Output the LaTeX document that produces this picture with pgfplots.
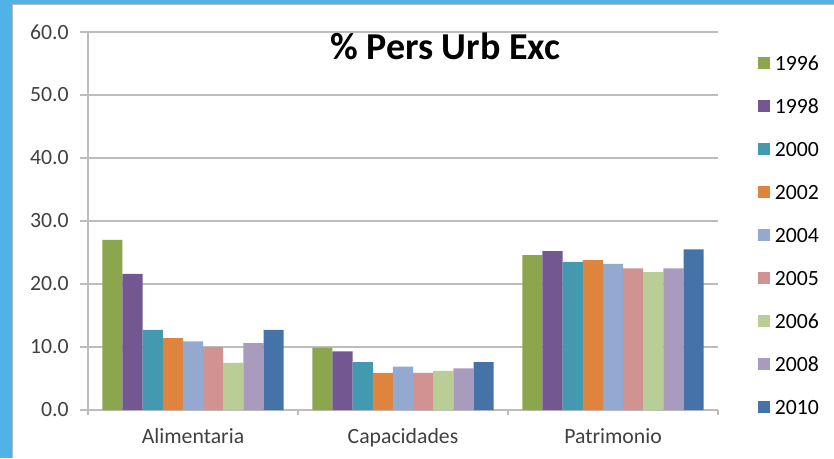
\documentclass[border=0pt]{standalone}
\usepackage{fontspec}
\setmainfont{Carlito}
\usepackage{pgfplots}
\usepackage{pgfplotstable}
\pgfplotsset{compat=1.18}

\definecolor{SlideBlue}{HTML}{4FB3E8}
\definecolor{GridGray}{HTML}{BDBDBD}
\definecolor{LabelGray}{HTML}{404040}
\definecolor{Y1996}{HTML}{8BA64D}
\definecolor{Y1998}{HTML}{735790}
\definecolor{Y2000}{HTML}{4299B0}
\definecolor{Y2002}{HTML}{DE843C}
\definecolor{Y2004}{HTML}{93A9D0}
\definecolor{Y2005}{HTML}{D19392}
\definecolor{Y2006}{HTML}{B9CE96}
\definecolor{Y2008}{HTML}{A99BBD}
\definecolor{Y2010}{HTML}{4572A7}

% categories: 0 Alimentaria, 1 Capacidades, 2 Patrimonio
\pgfplotstableread{
x  y1996 y1998 y2000 y2002 y2004 y2005 y2006 y2008 y2010
0  27.0  21.6  12.7  11.4  10.9  10.0  7.5   10.6  12.7
1  9.9   9.3   7.6   5.9   6.9   5.9   6.2   6.6   7.6
2  24.6  25.2  23.5  23.8  23.2  22.5  21.9  22.5  25.5
}\datatable

\begin{document}
\begin{tikzpicture}
\useasboundingbox (0,0) rectangle (625.5pt,343.5pt);
\fill[SlideBlue] (0,0) rectangle (625.5pt,343.5pt);
\fill[white] (9pt,0) rectangle (625.5pt,340.5pt);
\draw[gray!55, line width=1pt] (9.5pt,0) -- (9.5pt,340pt) -- (625.5pt,340pt);
\begin{axis}[
  at={(66pt,36pt)}, anchor=south west,
  width=472.5pt, height=283.5pt, scale only axis,
  xmin=-0.5, xmax=2.5, ymin=0, ymax=60,
  ybar=0pt, bar width=0.096,
  xtick={0,1,2},
  xticklabels={Alimentaria,Capacidades,Patrimonio},
  minor xtick={-0.5,0.5,1.5,2.5},
  major x tick style={draw=none},
  ytick={0,10,...,60},
  ymajorgrids,
  grid style={draw=GridGray, line width=1.3pt},
  axis x line*=bottom, axis y line*=left,
  axis line style={draw=GridGray, line width=1.3pt, -},
  tick align=outside, major tick length=6pt, minor tick length=4pt,
  tick style={draw=GridGray, line width=1.3pt},
  /pgf/number format/assume math mode=true,
  y tick label style={/pgf/number format/fixed,
    /pgf/number format/fixed zerofill, /pgf/number format/precision=1},
  tick label style={font=\fontsize{16.3}{19}\selectfont, text=LabelGray},
  yticklabel style={xshift=-5pt},
  xticklabel style={yshift=-4pt},
  title={\% Pers Urb Exc},
  title style={at={(0.567,0.978)}, anchor=north, inner sep=0pt,
    font=\bfseries\fontsize{28.5}{34}\selectfont},
  legend cell align=left,
  legend image code/.code={\fill[#1] (0pt,-4.5pt) rectangle (9pt,4.5pt);},
  legend style={at={(1.057,0.944)}, anchor=north west, draw=none, fill=none,
    font=\fontsize{16.3}{19}\selectfont, row sep=21.2pt, column sep=3.5pt,
    nodes={inner sep=0pt, text height=11pt, text depth=0pt}},
]
\addplot[fill=Y1996, draw=none] table[x=x, y=y1996] {\datatable};
\addplot[fill=Y1998, draw=none] table[x=x, y=y1998] {\datatable};
\addplot[fill=Y2000, draw=none] table[x=x, y=y2000] {\datatable};
\addplot[fill=Y2002, draw=none] table[x=x, y=y2002] {\datatable};
\addplot[fill=Y2004, draw=none] table[x=x, y=y2004] {\datatable};
\addplot[fill=Y2005, draw=none] table[x=x, y=y2005] {\datatable};
\addplot[fill=Y2006, draw=none] table[x=x, y=y2006] {\datatable};
\addplot[fill=Y2008, draw=none] table[x=x, y=y2008] {\datatable};
\addplot[fill=Y2010, draw=none] table[x=x, y=y2010] {\datatable};
\legend{1996,1998,2000,2002,2004,2005,2006,2008,2010}
\end{axis}
\end{tikzpicture}
\end{document}
